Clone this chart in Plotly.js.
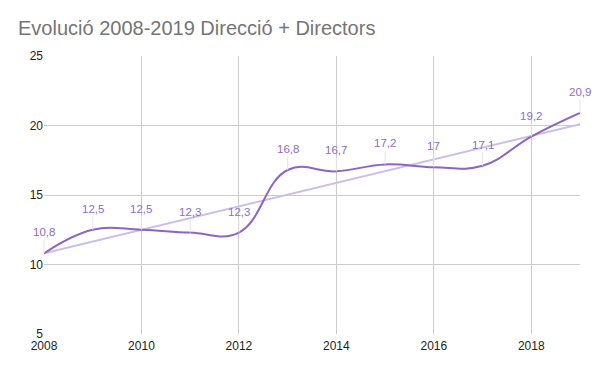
<!DOCTYPE html>
<html>
<head>
<meta charset="utf-8">
<script src="https://cdn.plot.ly/plotly-3.0.1.min.js"></script>
<style>html,body{margin:0;padding:0;background:#fff;}#chart{width:600px;height:372px;}</style>
</head>
<body>
<div id="chart"></div>
<script>
const years = [2008, 2009, 2010, 2011, 2012, 2013, 2014, 2015, 2016, 2017, 2018, 2019];
const values = [10.8, 12.5, 12.5, 12.3, 12.3, 16.8, 16.7, 17.2, 17, 17.1, 19.2, 20.9];
const trendYears = [2008, 2019];
const trendValues = [10.8, 20.1];
const xTicks = [2008, 2010, 2012, 2014, 2016, 2018];
const yTicks = [5, 10, 15, 20, 25];

const labelColor = '#8e6cc6';
const lineColor = '#8e63c6';
const fontFam = 'Liberation Sans, Arial, Helvetica, sans-serif';

const traces = [
  {x: trendYears, y: trendValues, mode: 'lines', line: {color: '#cdbde9', width: 2}, hoverinfo: 'skip'},
  {x: years, y: values, mode: 'lines', line: {color: lineColor, width: 2, shape: 'spline', smoothing: 1.2}}
];

const annotations = years.map((yr, i) => ({
  x: yr, y: values[i], xref: 'x', yref: 'y',
  text: String(values[i]).replace('.', ','),
  showarrow: true, arrowhead: 0, arrowwidth: 1, arrowcolor: '#e6e6e6',
  ax: 0, ay: -21, standoff: 0,
  font: {family: fontFam, size: 11.5, color: labelColor}
}));

const layout = {
  width: 600, height: 372,
  margin: {l: 44, r: 20, t: 56, b: 38},
  paper_bgcolor: '#fff', plot_bgcolor: '#fff',
  showlegend: false,
  title: {text: 'Evolució 2008-2019 Direcció + Directors', xref: 'container', yref: 'container',
    x: 0.03, xanchor: 'left', y: 0.925, yanchor: 'middle',
    font: {family: fontFam, size: 20, color: '#757575'}},
  xaxis: {range: [2008, 2019], tickvals: xTicks, ticktext: xTicks.map(String), showgrid: true, gridcolor: '#cccccc',
    zeroline: false, showline: false, ticks: '', ticklabelstandoff: 3,
    tickfont: {family: fontFam, size: 12, color: '#222'}},
  yaxis: {range: [5, 25], tickvals: yTicks, showgrid: true, gridcolor: '#cccccc', zeroline: false, showline: false,
    ticks: '', tickfont: {family: fontFam, size: 12, color: '#222'}},
  annotations: annotations
};

Plotly.newPlot('chart', traces, layout, {displayModeBar: false, staticPlot: true});
</script>
</body>
</html>
